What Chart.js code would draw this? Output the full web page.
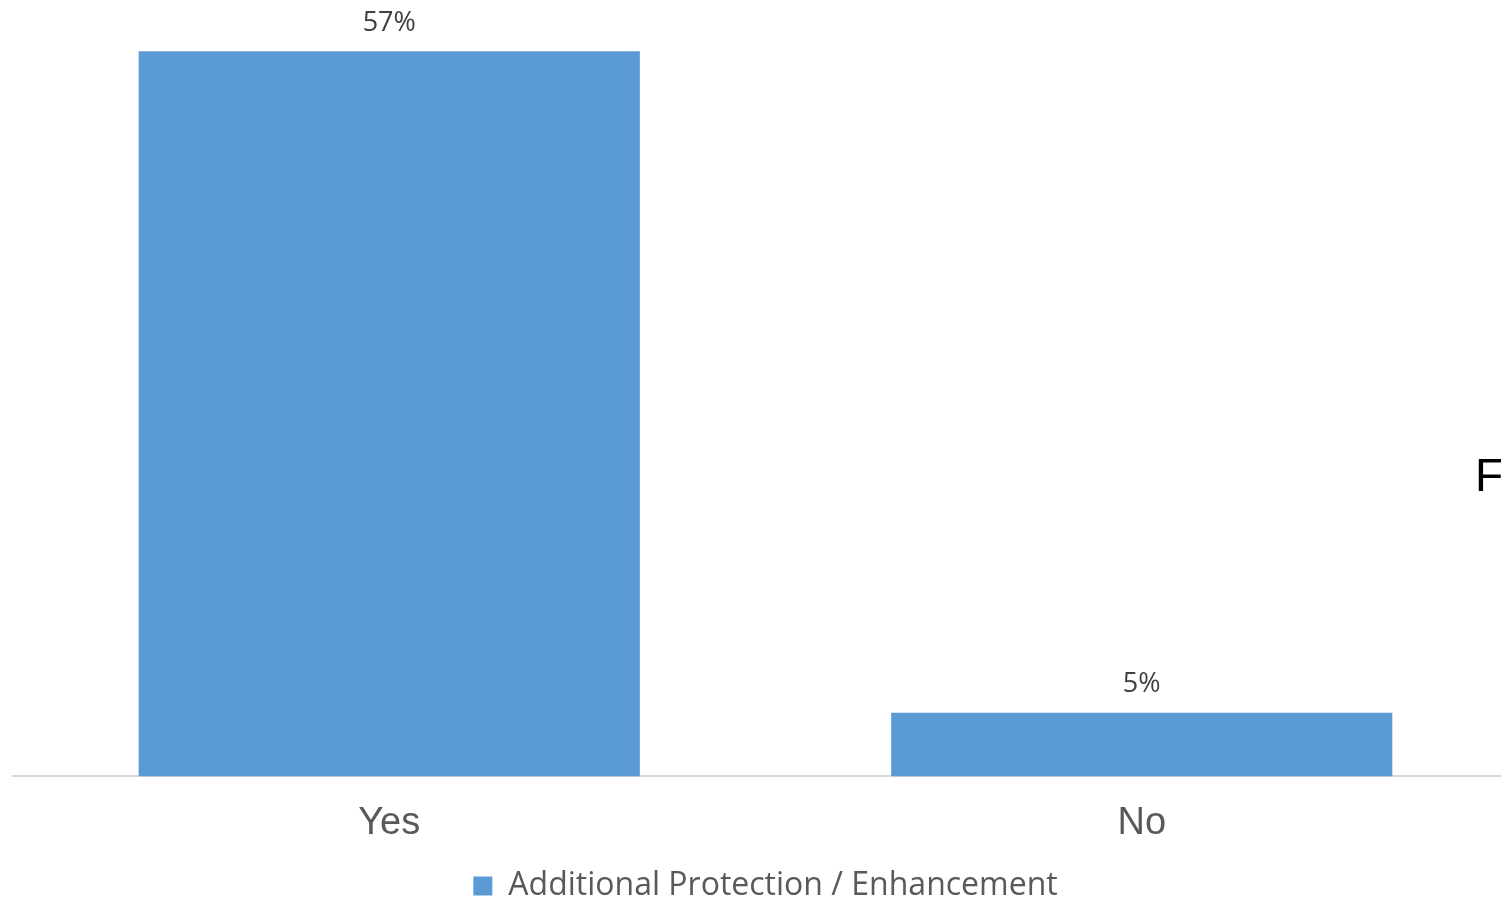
<!DOCTYPE html>
<html>
<head>
<meta charset="utf-8">
<script src="https://cdn.jsdelivr.net/npm/chart.js@4/dist/chart.umd.min.js"></script>
<style>
html,body{margin:0;padding:0;background:#fff;overflow:hidden;width:1501px;height:898px;}
#wrap{position:absolute;left:0;top:0;width:1544px;height:898px;}
#stray{position:absolute;left:1475px;top:452px;font-family:"Liberation Sans",Arial,sans-serif;font-size:46px;color:#000;line-height:1;}
</style>
</head>
<body>
<div id="wrap"><canvas id="c" width="1544" height="898"></canvas></div>
<div id="stray">F</div>
<script>
const categories = ["Yes", "No"];
const seriesName = "Additional Protection / Enhancement";
const values = [57, 5];
const valueLabels = ["57%", "5%"];

const labelPlugin = {
  id: 'valueLabels',
  afterDatasetsDraw(chart) {
    const ctx = chart.ctx;
    const meta = chart.getDatasetMeta(0);
    ctx.save();
    ctx.font = '27px "Open Sans", "Noto Sans", sans-serif';
    ctx.fillStyle = '#404040';
    ctx.textAlign = 'center';
    ctx.textBaseline = 'middle';
    meta.data.forEach((bar, i) => {
      ctx.fillText(valueLabels[i], bar.x, bar.y - 28);
    });
    ctx.restore();
  }
};

new Chart(document.getElementById('c'), {
  type: 'bar',
  data: {
    labels: categories,
    datasets: [{
      label: seriesName,
      data: values,
      backgroundColor: '#5B9BD5',
      borderWidth: 0,
      categoryPercentage: 1,
      barPercentage: 0.666
    }]
  },
  options: {
    responsive: false,
    animation: false,
    layout: { padding: { left: 13, right: 26, top: 13, bottom: -14 } },
    plugins: {
      legend: {
        position: 'bottom',
        labels: {
          boxWidth: 19,
          boxHeight: 19,
          color: '#595959',
          font: { family: '"Open Sans", "Noto Sans", sans-serif', size: 32 },
          padding: 8
        }
      },
      tooltip: { enabled: false }
    },
    scales: {
      x: {
        grid: { display: false },
        border: { color: '#d9d9d9', width: 2 },
        ticks: {
          color: '#595959',
          font: { family: '"Liberation Sans", Arial, sans-serif', size: 38 },
          padding: 16
        }
      },
      y: {
        display: false,
        min: 0,
        max: 60
      }
    }
  },
  plugins: [labelPlugin]
});
</script>
</body>
</html>
